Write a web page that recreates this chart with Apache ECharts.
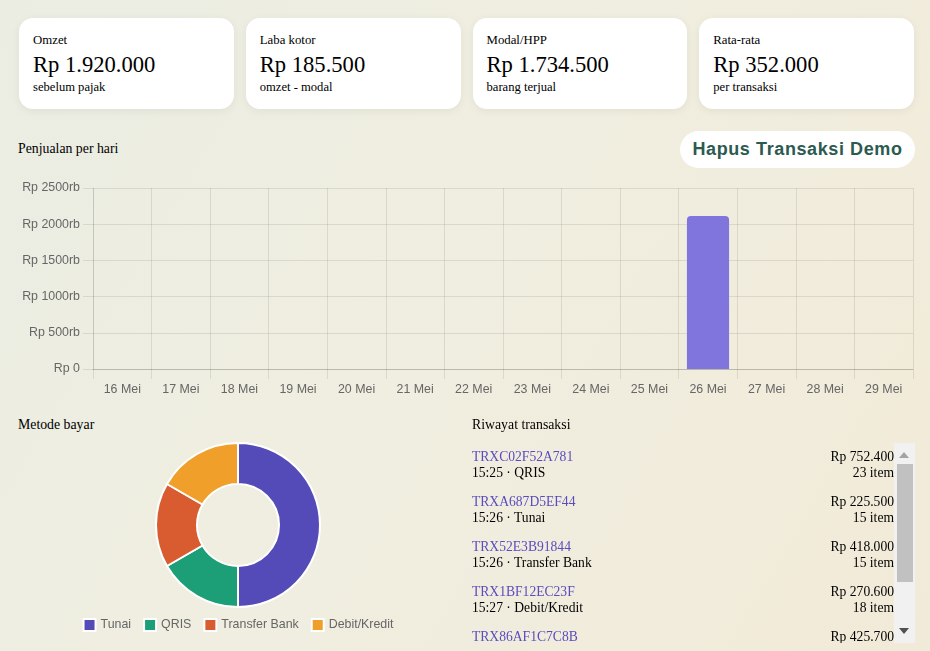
<!DOCTYPE html>
<html>
<head>
<meta charset="utf-8">
<script src="https://cdn.jsdelivr.net/npm/echarts@6/dist/echarts.min.js"></script>
<style>
  html, body { margin: 0; padding: 0; }
  body {
    width: 930px; height: 651px; overflow: hidden; position: relative;
    background: linear-gradient(120deg, #ebede3 0%, #f0eee0 50%, #f2ead8 100%);
    font-family: "Liberation Serif", serif; color: #000;
  }
  .cards { position: absolute; left: 19px; top: 18px; width: 895px; display: flex; gap: 12px; }
  .card {
    flex: 1; height: 91px; box-sizing: border-box; padding: 14px 14px 0 14px;
    background: #fff; border-radius: 14px; box-shadow: 0 2px 10px rgba(0,0,0,0.06);
  }
  .card .lbl { font-size: 12.8px; line-height: 16px; }
  .card .val { font-size: 22.6px; line-height: 26px; margin-top: 4px; }
  .card .sub { font-size: 12.6px; line-height: 16px; margin-top: 1px; }
  .ttl { position: absolute; font-size: 13.8px; }
  .btn {
    position: absolute; left: 680px; top: 131px; width: 235px; height: 37px;
    background: #fff; border-radius: 19px; text-align: center; line-height: 37px;
    font-family: "Liberation Sans", Arial, sans-serif; font-weight: bold; font-size: 18px;
    letter-spacing: 0.6px; color: #2b5a50;
  }
  #bar { position: absolute; left: 0; top: 175px; width: 930px; height: 230px; }
  #pie { position: absolute; left: 0; top: 430px; width: 476px; height: 215px; }
  .list {
    position: absolute; left: 472px; top: 443px; width: 422px; height: 200px;
    overflow: hidden; font-size: 13.6px; line-height: 16px;
  }
  .sbar { position: absolute; left: 894px; top: 443px; width: 21px; height: 200px; background: #f1f1f1; }
  .sbar .thumb { position: absolute; left: 3px; top: 21px; width: 16px; height: 118px; background: #c1c1c1; }
  .sbar .up, .sbar .down { position: absolute; left: 5px; width: 0; height: 0;
    border-left: 5.5px solid transparent; border-right: 5.5px solid transparent; }
  .sbar .up { top: 9px; border-bottom: 6px solid #a3a3a3; }
  .sbar .down { bottom: 9px; border-top: 6px solid #505050; }
  .row { display: flex; justify-content: space-between; padding: 6px 0 7px 0; }
  .row .id { color: #5a4bbf; }
  .row .r { text-align: right; }
</style>
</head>
<body>
<div class="cards" id="cards"></div>
<div class="ttl" style="left:18px; top:141px;">Penjualan per hari</div>
<div class="btn">Hapus Transaksi Demo</div>
<div id="bar"></div>
<div class="ttl" style="left:18px; top:417px;">Metode bayar</div>
<div id="pie"></div>
<div class="ttl" style="left:472px; top:417px;">Riwayat transaksi</div>
<div class="list" id="list"></div>
<div class="sbar"><div class="up"></div><div class="thumb"></div><div class="down"></div></div>

<script>
// kartu ringkasan
const cardLabels = ['Omzet', 'Laba kotor', 'Modal/HPP', 'Rata-rata']
const cardValues = ['Rp 1.920.000', 'Rp 185.500', 'Rp 1.734.500', 'Rp 352.000']
const cardSubs = ['sebelum pajak', 'omzet - modal', 'barang terjual', 'per transaksi']

// penjualan per hari (rupiah)
const days = ['16 Mei', '17 Mei', '18 Mei', '19 Mei', '20 Mei', '21 Mei', '22 Mei',
  '23 Mei', '24 Mei', '25 Mei', '26 Mei', '27 Mei', '28 Mei', '29 Mei']
const sales = [0, 0, 0, 0, 0, 0, 0, 0, 0, 0, 2112000, 0, 0, 0]

// metode bayar (jumlah transaksi)
const methods = ['Tunai', 'QRIS', 'Transfer Bank', 'Debit/Kredit']
const methodCounts = [3, 1, 1, 1]
const methodColors = ['#544bb8', '#1c9e77', '#d95b30', '#ef9f2a']

// riwayat transaksi
const trxIds = ['TRXC02F52A781', 'TRXA687D5EF44', 'TRX52E3B91844', 'TRX1BF12EC23F', 'TRX86AF1C7C8B', 'TRX4D19A0B2E7']
const trxTimes = ['15:25', '15:26', '15:26', '15:27', '15:27', '15:28']
const trxMethods = ['QRIS', 'Tunai', 'Transfer Bank', 'Debit/Kredit', 'Tunai', 'Tunai']
const trxTotals = ['Rp 752.400', 'Rp 225.500', 'Rp 418.000', 'Rp 270.600', 'Rp 425.700', 'Rp 19.800']
const trxItems = [23, 15, 15, 18, 14, 2]

let cardsHtml = ''
cardLabels.forEach((l, i) => {
  cardsHtml += '<div class="card"><div class="lbl">' + l + '</div><div class="val">' + cardValues[i] +
    '</div><div class="sub">' + cardSubs[i] + '</div></div>'
})
document.getElementById('cards').innerHTML = cardsHtml

let listHtml = ''
trxIds.forEach((id, i) => {
  listHtml += '<div class="row"><div><div class="id">' + id + '</div><div>' + trxTimes[i] + ' · ' + trxMethods[i] +
    '</div></div><div class="r"><div>' + trxTotals[i] + '</div><div>' + trxItems[i] + ' item</div></div></div>'
})
document.getElementById('list').innerHTML = listHtml

const gridColor = 'rgba(0,0,0,0.09)'
const labelFont = { color: '#666', fontSize: 12.4, fontFamily: 'Liberation Sans' }

const bar = echarts.init(document.getElementById('bar'))
bar.setOption({
  animation: false,
  grid: { left: 93, right: 17, top: 13, bottom: 36 },
  xAxis: {
    type: 'category',
    data: days,
    axisLine: { lineStyle: { color: 'rgba(0,0,0,0.15)' } },
    axisTick: { show: true, length: 10, lineStyle: { color: gridColor } },
    axisLabel: Object.assign({ margin: 15 }, labelFont),
    splitLine: { show: true, lineStyle: { color: gridColor } }
  },
  yAxis: {
    type: 'value',
    min: 0,
    max: 2500000,
    interval: 500000,
    axisLine: { show: true, lineStyle: { color: gridColor } },
    axisTick: { show: true, length: 10, lineStyle: { color: gridColor } },
    axisLabel: Object.assign({
      margin: 13,
      formatter: (v) => v === 0 ? 'Rp 0' : 'Rp ' + (v / 1000) + 'rb'
    }, labelFont),
    splitLine: { show: true, lineStyle: { color: gridColor } }
  },
  series: [{
    type: 'bar',
    data: sales,
    barWidth: '72%',
    itemStyle: { color: '#7f75dc', borderRadius: [4, 4, 0, 0] }
  }]
})

const pie = echarts.init(document.getElementById('pie'))
pie.setOption({
  animation: false,
  color: methodColors,
  legend: {
    bottom: 8,
    left: 'center',
    itemWidth: 12,
    itemHeight: 12,
    itemGap: 12,
    icon: 'rect',
    textStyle: labelFont,
    data: methods
  },
  series: [{
    type: 'pie',
    center: [238, 95],
    radius: [41, 82],
    startAngle: 90,
    clockwise: true,
    label: { show: false },
    labelLine: { show: false },
    itemStyle: { borderColor: '#fff', borderWidth: 2 },
    data: methods.map((m, i) => ({ name: m, value: methodCounts[i] }))
  }]
})
</script>
</body>
</html>
